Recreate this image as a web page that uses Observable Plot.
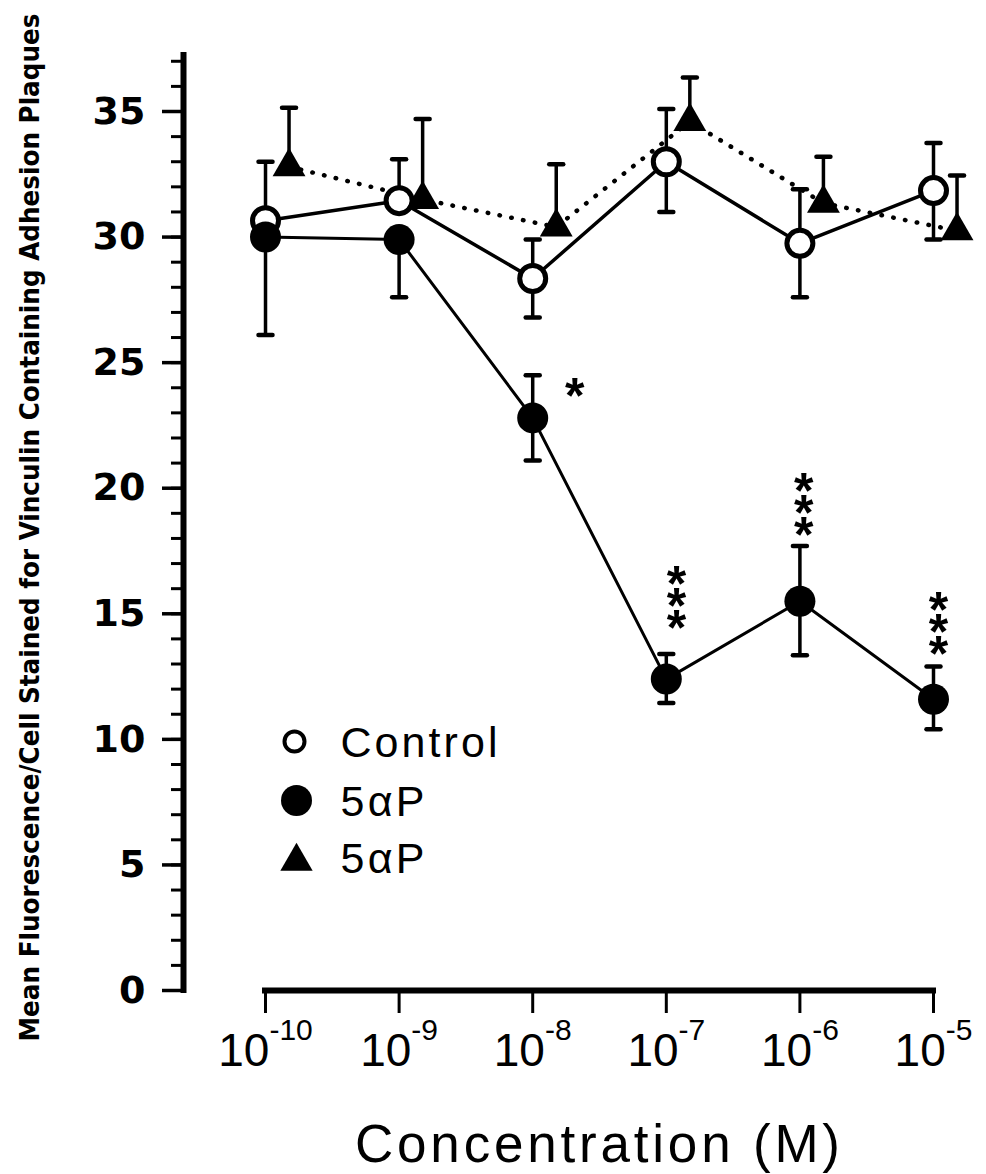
<!DOCTYPE html>
<html>
<head>
<meta charset="utf-8">
<script src="https://cdn.jsdelivr.net/npm/d3@7"></script>
<script src="https://cdn.jsdelivr.net/npm/@observablehq/plot@0.6"></script>
<style>
  html, body { margin: 0; padding: 0; background: #fff; }
  #chart svg { display: block; }
</style>
</head>
<body>
<div id="chart"></div>
<script>
// ---------- data ----------
const concentrations = [1e-10, 1e-9, 1e-8, 1e-7, 1e-6, 1e-5];
const xTickExponents = ["-10", "-9", "-8", "-7", "-6", "-5"];

const controlMean  = [30.65, 31.45, 28.35, 33.0, 29.75, 31.85];
const controlUpper = [33.0, 33.1, 29.9, 35.1, 31.9, 33.75];
const controlLower = [null, null, 26.8, 31.0, 27.6, 29.9];

const fiveAlphaPMean  = [30.0, 29.9, 22.8, 12.4, 15.5, 11.6];
const fiveAlphaPUpper = [null, null, 24.5, 13.4, 17.7, 12.9];
const fiveAlphaPLower = [26.1, 27.6, 21.1, 11.45, 13.35, 10.4];

// triangle series is drawn slightly right of each concentration
const triangleConcentrations = [1.5e-10, 1.5e-9, 1.5e-8, 1.5e-7, 1.5e-6, 1.5e-5];
const triangleMean  = [32.8, 31.5, 30.4, 34.6, 31.35, 30.25];
const triangleUpper = [35.15, 34.7, 32.9, 36.35, 33.2, 32.45];

const sigConcentrations = [2.06e-8, 1.19e-7, 1.07e-6, 1.09e-5];
const sigValues = [24.0, 15.65, 19.35, 14.6];
const sigLabels = ["*", "*\n*\n*", "*\n*\n*", "*\n*\n*"];

const yMajorTicks = [0, 5, 10, 15, 20, 25, 30, 35];
const yMinorTicks = [0,1,2,3,4,5,6,7,8,9,10,11,12,13,14,15,16,17,18,19,20,21,22,23,24,25,26,27,28,29,30,31,32,33,34,35,36,37];

const legendLabels = ["Control", "5\u03b1P", "5\u03b1P"];
const yLabel = "Mean Fluorescence/Cell Stained for Vinculin Containing Adhesion Plaques";
const xLabel = "Concentration (M)";

const xDomain = [2.433e-11, 1e-5];
const yDomain = [0, 37.23];

// ---------- tables ----------
const control = concentrations.map((c, i) => ({c, mean: controlMean[i], hi: controlUpper[i], lo: controlLower[i]}));
const fiveAP = concentrations.map((c, i) => ({c, mean: fiveAlphaPMean[i], hi: fiveAlphaPUpper[i], lo: fiveAlphaPLower[i]}));
const tri = triangleConcentrations.map((c, i) => ({c, mean: triangleMean[i], hi: triangleUpper[i]}));
const sig = sigConcentrations.map((c, i) => ({c, v: sigValues[i], label: sigLabels[i]}));

const capSymbol = {
  draw(context, size) {
    const w = Math.sqrt(size / Math.PI);
    context.moveTo(-w, 0);
    context.lineTo(w, 0);
  }
};

function errorMarks(rows, key) {
  const r = rows.filter(d => d[key] != null);
  return [
    Plot.ruleX(r, {x: "c", y1: "mean", y2: key, stroke: "black", strokeWidth: 3.5}),
    Plot.dot(r, {x: "c", y: key, symbol: capSymbol, r: 7, fill: "none", stroke: "black", strokeWidth: 4.5, strokeLinecap: "round"})
  ];
}

const chart = Plot.plot({
  width: 986,
  height: 1174,
  marginLeft: 183,
  marginRight: 53,
  marginTop: 55,
  marginBottom: 184,
  style: {fontFamily: "'Liberation Sans', Arial, sans-serif", background: "#fff", overflow: "visible", color: "black"},
  x: {type: "log", domain: xDomain},
  y: {domain: yDomain},
  marks: [
    // axes
    Plot.ruleX([xDomain[0]], {y1: yDomain[0], y2: yDomain[1], stroke: "black", strokeWidth: 6, strokeLinecap: "square"}),
    Plot.ruleY([0], {x1: concentrations[0], x2: concentrations[concentrations.length - 1], stroke: "black", strokeWidth: 6, strokeLinecap: "square"}),
    Plot.axisY({ticks: yMinorTicks, tickSize: 12, tickFormat: () => "", strokeWidth: 3, label: null}),
    Plot.axisY({ticks: yMajorTicks, tickSize: 21, tickPadding: 17, strokeWidth: 3.5, fontSize: 38,
      fontFamily: "'DejaVu Sans', sans-serif", fontWeight: "bold", tickFormat: d => String(d), label: null}),
    Plot.axisX({ticks: concentrations, tickSize: 23, tickPadding: 20, strokeWidth: 3, fontSize: 46,
      tickFormat: d => xTickExponents[concentrations.indexOf(d)], label: null}),

    // lines
    Plot.line(tri, {x: "c", y: "mean", stroke: "black", strokeWidth: 4.5, strokeDasharray: "0.5 11.5", strokeLinecap: "round"}),
    Plot.line(control, {x: "c", y: "mean", stroke: "black", strokeWidth: 3.5}),
    Plot.line(fiveAP, {x: "c", y: "mean", stroke: "black", strokeWidth: 3}),

    // error bars
    ...errorMarks(control, "hi"),
    ...errorMarks(control, "lo"),
    ...errorMarks(fiveAP, "hi"),
    ...errorMarks(fiveAP, "lo"),
    ...errorMarks(tri, "hi"),

    // markers
    Plot.dot(control, {x: "c", y: "mean", r: 13, fill: "white", stroke: "black", strokeWidth: 5}),
    Plot.dot(fiveAP, {x: "c", y: "mean", r: 15.5, fill: "black", stroke: "none"}),
    Plot.dot(tri, {x: "c", y: "mean", symbol: "triangle", r: 12.2, fill: "black", stroke: "none"}),

    // significance asterisks
    Plot.text(sig, {x: "c", y: "v", text: "label", fontSize: 50, fontWeight: "bold", lineHeight: 0.44, dy: 18.5, fill: "black"}),

    // legend
    Plot.dot([legendLabels[0]], {frameAnchor: "top-left", dx: 111, dy: 686, r: 10, fill: "white", stroke: "black", strokeWidth: 4}),
    Plot.dot([legendLabels[1]], {frameAnchor: "top-left", dx: 113, dy: 745, r: 15.5, fill: "black"}),
    Plot.dot([legendLabels[2]], {frameAnchor: "top-left", dx: 113, dy: 806, r: 12, symbol: "triangle", fill: "black"}),
    Plot.text([legendLabels[0]], {frameAnchor: "top-left", text: d => d, dx: 157, dy: 688, textAnchor: "start", lineAnchor: "middle", fontSize: 43, fill: "black"}),
    Plot.text([legendLabels[1]], {frameAnchor: "top-left", text: d => d, dx: 157, dy: 747, textAnchor: "start", lineAnchor: "middle", fontSize: 43, fill: "black"}),
    Plot.text([legendLabels[2]], {frameAnchor: "top-left", text: d => d, dx: 157, dy: 804, textAnchor: "start", lineAnchor: "middle", fontSize: 43, fill: "black"}),

    // axis titles
    Plot.text([yLabel], {frameAnchor: "left", text: d => d, rotate: -90, dx: -153, dy: 4.5, textAnchor: "middle", lineAnchor: "middle",
      fontSize: 26, fontWeight: "bold", fontFamily: "'DejaVu Sans Condensed', 'Liberation Sans Narrow', 'DejaVu Sans', sans-serif", fill: "black"}),
    Plot.text([xLabel], {frameAnchor: "bottom", text: d => d, dx: 39, dy: 171, lineAnchor: "bottom", fontSize: 53, fill: "black"})
  ]
});

document.getElementById("chart").appendChild(chart);

// ---------- text post-processing ----------
const NS = "http://www.w3.org/2000/svg";
chart.querySelectorAll('g[aria-label="x-axis tick label"] text').forEach(t => {
  const exp = t.textContent;
  t.textContent = "10";
  const ts = document.createElementNS(NS, "tspan");
  ts.setAttribute("dy", "-26.5");
  ts.setAttribute("font-size", "30");
  ts.textContent = exp;
  t.appendChild(ts);
});
chart.querySelectorAll("text").forEach(t => {
  const s = t.textContent;
  if (s === yLabel) {
    t.style.fontStretch = "condensed";
    t.setAttribute("textLength", "1028");
    t.setAttribute("lengthAdjust", "spacingAndGlyphs");
  }
  else if (s === xLabel) { t.setAttribute("textLength", "485"); t.setAttribute("lengthAdjust", "spacing"); }
  else if (s === "Control") { t.setAttribute("textLength", "157"); t.setAttribute("lengthAdjust", "spacing"); }
  else if (s === "5\u03b1P") { t.setAttribute("textLength", "84"); t.setAttribute("lengthAdjust", "spacing"); }
});
</script>
</body>
</html>
